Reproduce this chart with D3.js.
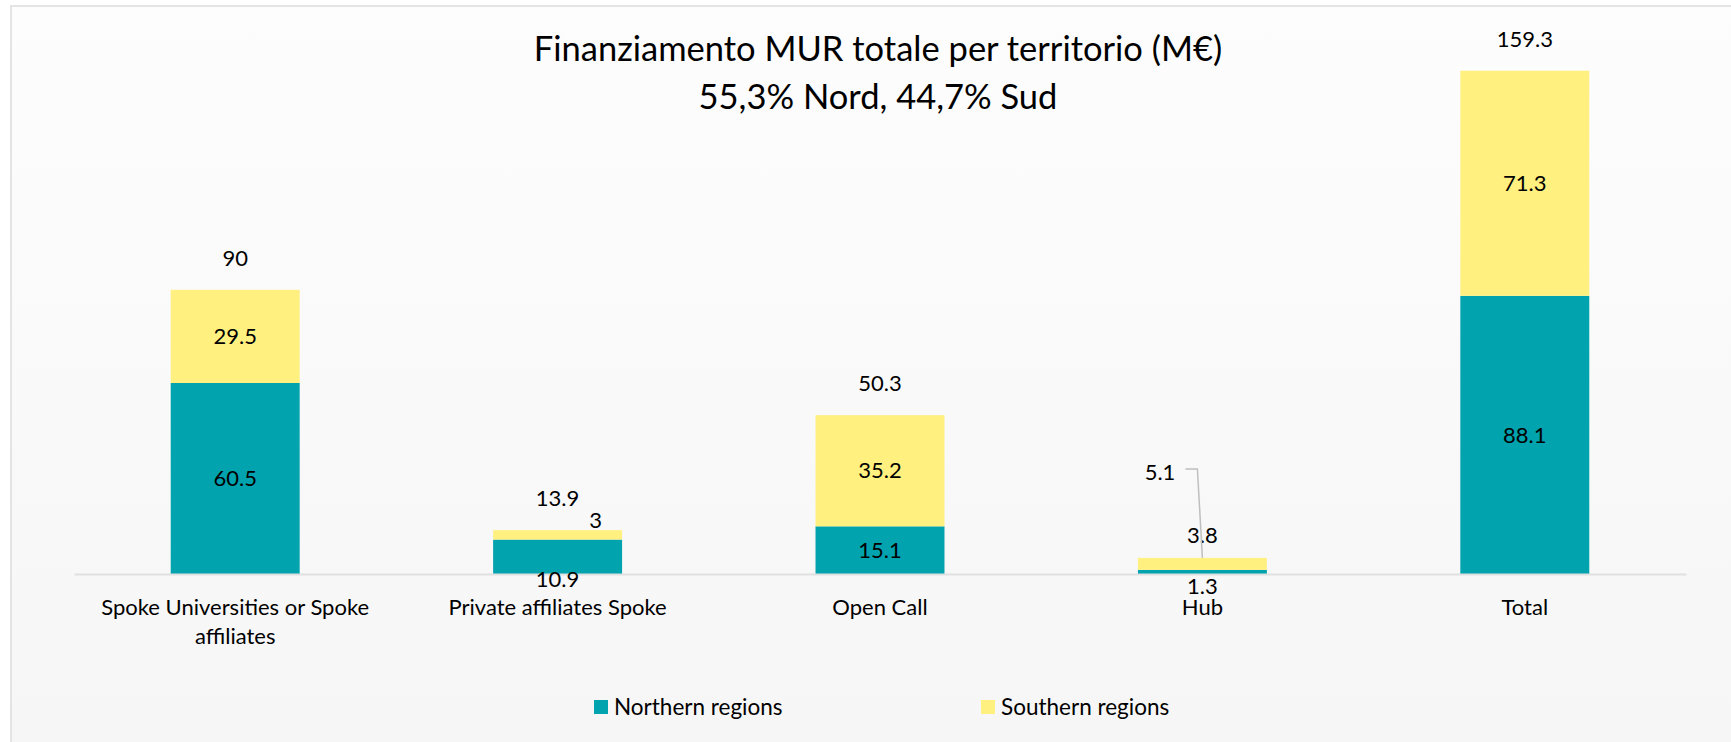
<!DOCTYPE html>
<html>
<head>
<meta charset="utf-8">
<script src="https://cdn.jsdelivr.net/npm/d3@7"></script>
<style>
  body { margin: 0; background: #ffffff; }
  svg text { font-family: Lato, "Open Sans", sans-serif; fill: #000; }
</style>
</head>
<body>
<svg id="chart" width="1731" height="742"></svg>
<script>
// data
var categories = ["Spoke Universities or Spoke affiliates", "Private affiliates Spoke", "Open Call", "Hub", "Total"];
var northern = [60.5, 10.9, 15.1, 1.3, 88.1];
var southern = [29.5, 3, 35.2, 3.8, 71.3];
var totals = [90, 13.9, 50.3, 5.1, 159.3];
var seriesNames = ["Northern regions", "Southern regions"];
var titleLines = ["Finanziamento MUR totale per territorio (M€)", "55,3% Nord, 44,7% Sud"];

var colors = ["#00a3ae", "#fff080"];

var svg = d3.select("#chart"),
    width = +svg.attr("width"),
    height = +svg.attr("height");

// chart area background + frame
var defs = svg.append("defs");
var grad = defs.append("linearGradient").attr("id", "bg").attr("x1", 0).attr("y1", 0).attr("x2", 0).attr("y2", 1);
grad.append("stop").attr("offset", "0%").attr("stop-color", "#fdfdfd");
grad.append("stop").attr("offset", "100%").attr("stop-color", "#f6f6f6");

svg.append("rect")
    .attr("x", 11).attr("y", 6)
    .attr("width", width).attr("height", height)
    .attr("fill", "url(#bg)")
    .attr("stroke", "#e4e4e4")
    .attr("stroke-width", 2);

var x = d3.scaleBand()
    .domain(categories)
    .range([74, 1686])
    .paddingInner(0.6)
    .paddingOuter(0.3);

var y = d3.scaleLinear()
    .domain([0, 160])
    .range([574, 68.8]);

// stacked layout
var rows = categories.map(function(c, i) {
  return { cat: c, north: northern[i], south: southern[i], total: totals[i] };
});
var stack = d3.stack().keys(["north", "south"]);
var layers = stack(rows);

svg.append("g")
  .selectAll("g")
  .data(layers)
  .enter().append("g")
    .attr("fill", function(d, i) { return colors[i]; })
  .selectAll("rect")
  .data(function(d) { return d; })
  .enter().append("rect")
    .attr("x", function(d) { return x(d.data.cat); })
    .attr("y", function(d) { return y(d[1]); })
    .attr("width", x.bandwidth())
    .attr("height", function(d) { return y(d[0]) - y(d[1]); });

// category axis (line only, no ticks)
var xAxis = svg.append("g")
    .attr("transform", "translate(0," + y(0) + ")")
    .call(d3.axisBottom(x).tickSize(0).tickPadding(0));
xAxis.select(".domain").attr("stroke", "#e0e0e0").attr("stroke-width", 2);
xAxis.selectAll(".tick text").remove();

function wrapLabel(text, maxw) {
  var words = text.split(" "), lines = [], cur = "";
  var probe = svg.append("text").style("font-size", "22px");
  words.forEach(function(w) {
    var t = cur ? cur + " " + w : w;
    probe.text(t);
    if (probe.node().getComputedTextLength() > maxw && cur) { lines.push(cur); cur = w; }
    else cur = t;
  });
  lines.push(cur);
  probe.remove();
  return lines;
}

var catLabels = svg.append("g").selectAll("text")
  .data(categories)
  .enter().append("text")
    .attr("text-anchor", "middle")
    .attr("x", function(d) { return x(d) + x.bandwidth() / 2; })
    .attr("y", 615)
    .style("font-size", "22px");
catLabels.each(function(d) {
  var t = d3.select(this);
  wrapLabel(d, 290).forEach(function(line, i) {
    t.append("tspan")
      .attr("x", x(d) + x.bandwidth() / 2)
      .attr("dy", i === 0 ? 0 : 29)
      .text(line);
  });
});

// data labels; a few nudged like Excel did for thin segments
var nudges = {
  "north|Private affiliates Spoke": [0, 23],
  "south|Private affiliates Spoke": [38, -15],
  "north|Hub": [0, 14],
  "south|Hub": [0, -29]
};

var labelG = svg.append("g").style("font-size", "22px");
layers.forEach(function(layer) {
  labelG.selectAll(null)
    .data(layer)
    .enter().append("text")
      .attr("text-anchor", "middle")
      .attr("dy", "0.35em")
      .attr("x", function(d) {
        var n = nudges[layer.key + "|" + d.data.cat];
        return x(d.data.cat) + x.bandwidth() / 2 + (n ? n[0] : 0);
      })
      .attr("y", function(d) {
        var n = nudges[layer.key + "|" + d.data.cat];
        return (y(d[0]) + y(d[1])) / 2 + (n ? n[1] : 0);
      })
      .text(function(d) { return d.data[layer.key]; });
});

// totals above the stacks
labelG.selectAll(null)
  .data(rows)
  .enter().append("text")
    .attr("text-anchor", function(d) { return d.cat === "Hub" ? "end" : "middle"; })
    .attr("dy", "0.35em")
    .attr("x", function(d) {
      var cx = x(d.cat) + x.bandwidth() / 2;
      return d.cat === "Hub" ? cx - 27 : cx;
    })
    .attr("y", function(d) { return d.cat === "Hub" ? y(d.total) - 86 : y(d.total) - 32; })
    .text(function(d) { return d.total; });

// leader line for the Hub total
var hubCx = x("Hub") + x.bandwidth() / 2;
var hubTop = y(totals[categories.indexOf("Hub")]);
svg.append("path")
    .attr("d", "M" + (hubCx - 17) + "," + (hubTop - 89) + "H" + (hubCx - 5) + "L" + hubCx + "," + hubTop)
    .attr("fill", "none")
    .attr("stroke", "#bfbfbf")
    .attr("stroke-width", 1.5);

// title
var title = svg.append("text")
    .attr("text-anchor", "middle")
    .attr("x", 878)
    .attr("y", 61)
    .style("font-size", "34.5px");
titleLines.forEach(function(l, i) {
  title.append("tspan").attr("x", 878).attr("dy", i === 0 ? 0 : 48).text(l);
});

// legend
var legendX = [594, 981];
var legend = svg.append("g").selectAll("g")
  .data(seriesNames)
  .enter().append("g")
    .attr("transform", function(d, i) { return "translate(" + legendX[i] + ",700)"; });
legend.append("rect")
    .attr("width", 14).attr("height", 14)
    .attr("fill", function(d, i) { return colors[i]; });
legend.append("text")
    .attr("x", 20).attr("y", 15)
    .style("font-size", "22.5px")
    .text(function(d) { return d; });
</script>
</body>
</html>
